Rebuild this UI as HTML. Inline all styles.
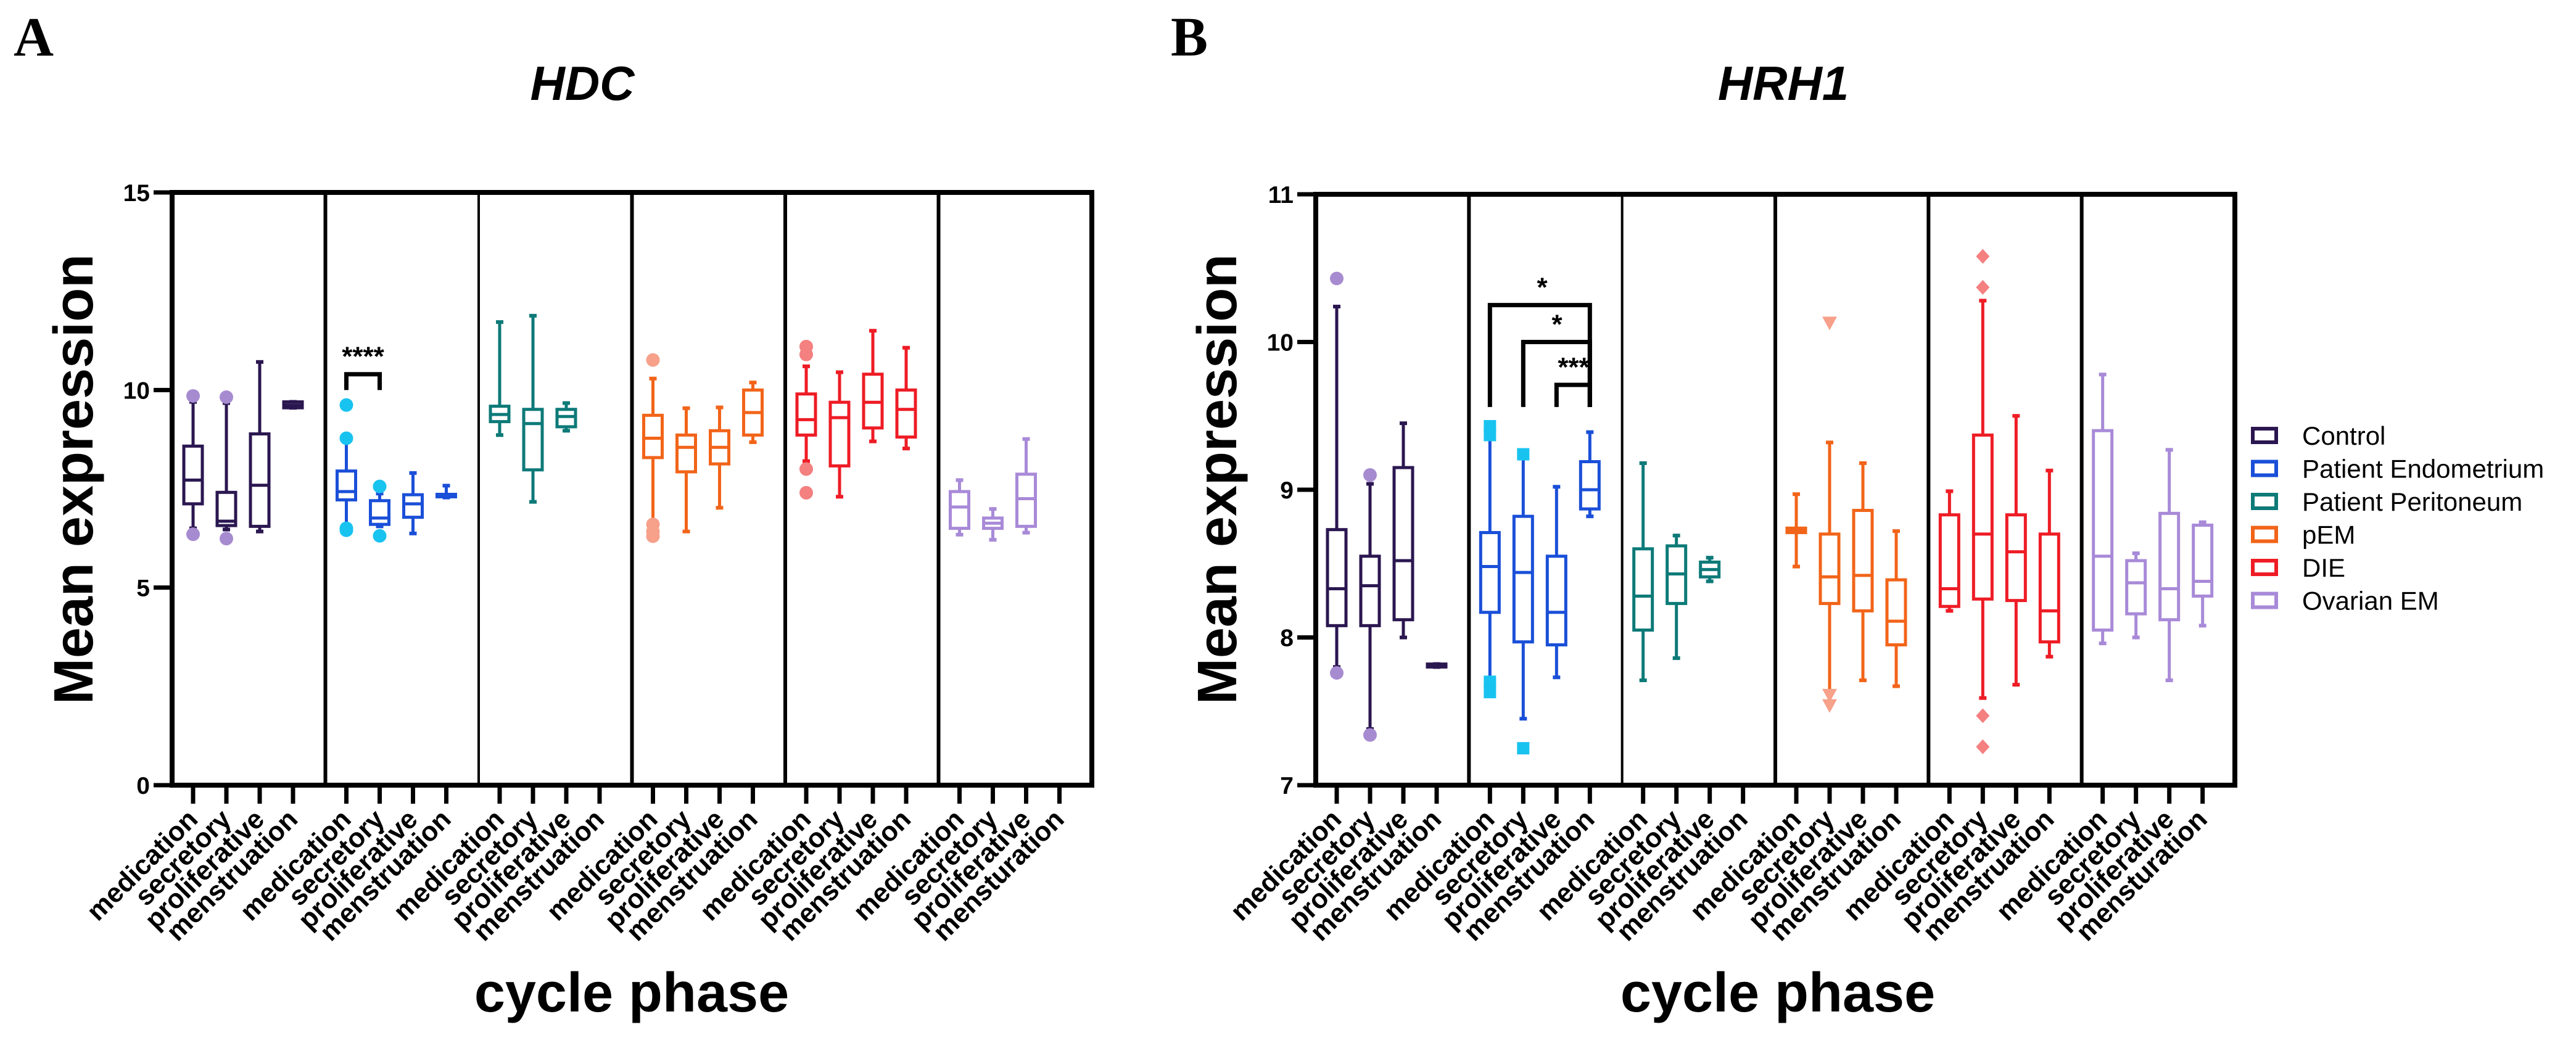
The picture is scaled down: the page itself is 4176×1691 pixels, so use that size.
<!DOCTYPE html>
<html><head><meta charset="utf-8"><style>
html,body{margin:0;padding:0;background:#fff;}
svg{display:block;font-family:"Liberation Sans",Arial,sans-serif;}
</style></head><body>
<svg id="fig" width="4176" height="1691" viewBox="0 0 4176 1691" xmlns="http://www.w3.org/2000/svg">
<rect width="4176" height="1691" fill="#fff"/>
<text x="22" y="90" font-family="Liberation Serif" font-weight="bold" font-size="90">A</text>
<text x="1898" y="90" font-family="Liberation Serif" font-weight="bold" font-size="90">B</text>
<text x="944" y="162" text-anchor="middle" font-weight="bold" font-style="italic" font-size="78">HDC</text>
<text x="2891" y="162" text-anchor="middle" font-weight="bold" font-style="italic" font-size="78">HRH1</text>
<text transform="translate(150,777) rotate(-90)" text-anchor="middle" font-weight="bold" font-size="90">Mean expression</text>
<text transform="translate(2004,777) rotate(-90)" text-anchor="middle" font-weight="bold" font-size="90">Mean expression</text>
<text x="1024" y="1640" text-anchor="middle" font-weight="bold" font-size="90">cycle phase</text>
<text x="2882" y="1640" text-anchor="middle" font-weight="bold" font-size="90">cycle phase</text>
<g id="pa"></g>
<g id="pb"></g>
<g id="legend"></g>
</svg>
<script>
const groupNames = ['Control','Patient Endometrium','Patient Peritoneum','pEM','DIE','Ovarian EM'];
const phasesA = ['medication','secretory','proliferative','menstruation'];
const phasesLast = ['medication','secretory','proliferative','mensturation'];
const groupColors = ['#2b1750','#1a4fd8','#0d7a78','#f26419','#ee1c25','#a88ad8'];
const outlierColors = ['#a78bd0','#19c3f0','#0d7a78','#f7a08a','#f48080','#a88ad8'];
const markerB = ['circle','square','circle','triangle','diamond','circle'];

// Panel A (HDC): 24 boxes, group-major, null = no data
const hdcMin    = [6.5,6.47,6.42,9.55, 6.6,6.55,6.37,7.28, 8.86,7.17,8.97,null, 6.65,6.42,7.02,8.68, 8.2,7.3,8.7,8.52, 6.34,6.21,6.39,null];
const hdcQ1     = [7.12,6.57,6.55,9.55, 7.22,6.6,6.78,7.3, 9.2,7.98,9.07,null, 8.29,7.93,8.13,8.86, 8.86,8.08,9.04,8.81, 6.5,6.5,6.55,null];
const hdcMedian = [7.72,6.68,7.59,9.62, 7.43,6.76,7.12,7.32, 9.38,9.15,9.33,null, 8.78,8.55,8.55,9.43, 9.25,9.3,9.69,9.51, 7.04,6.63,7.25,null];
const hdcQ3     = [8.58,7.41,8.89,9.7, 7.95,7.2,7.35,7.36, 9.59,9.51,9.51,null, 9.36,8.86,8.97,10.0, 9.9,9.69,10.4,10.0, 7.43,6.76,7.87,null];
const hdcMax    = [9.7,9.67,10.71,9.7, 8.68,7.38,7.9,7.58, 11.72,11.88,9.67,null, 10.29,9.54,9.56,10.19, 10.6,10.45,11.5,11.07, 7.72,6.99,8.76,null];
const hdcOutIdx = [0,0,1,1,4,4,4,4,5,5,12,12,12,12,16,16,16,16];
const hdcOutVal = [9.85,6.35,9.82,6.24,9.62,8.78,6.5,6.45,7.56,6.31,10.76,6.6,6.42,6.3,11.1,10.9,8.0,7.4];
const hdcYTicks = [0,5,10,15];

// Panel B (HRH1)
const hrhMin    = [7.8,7.38,8.0,7.8, 7.68,7.45,7.73,8.82, 7.71,7.86,8.38,null, 8.48,7.63,7.71,7.67, 8.18,7.59,7.68,7.87, 7.96,8.0,7.71,8.08];
const hrhQ1     = [8.08,8.08,8.12,7.8, 8.17,7.97,7.95,8.87, 8.05,8.23,8.41,null, 8.71,8.23,8.18,7.95, 8.21,8.26,8.25,7.97, 8.05,8.16,8.12,8.28];
const hrhMedian = [8.33,8.35,8.52,7.81, 8.48,8.44,8.17,9.0, 8.28,8.43,8.46,null, 8.72,8.41,8.42,8.11, 8.33,8.7,8.58,8.18, 8.55,8.37,8.33,8.38];
const hrhQ3     = [8.73,8.55,9.15,7.82, 8.71,8.82,8.55,9.19, 8.6,8.62,8.51,null, 8.74,8.7,8.86,8.39, 8.83,9.37,8.83,8.7, 9.4,8.52,8.84,8.76];
const hrhMax    = [10.24,9.04,9.45,7.82, 9.39,9.23,9.02,9.39, 9.18,8.69,8.54,null, 8.97,9.32,9.18,8.72, 8.99,10.28,9.5,9.13, 9.78,8.57,9.27,8.78];
const hrhOutIdx = [0,0,1,1,4,4,4,4,5,5,13,13,13,17,17,17,17];
const hrhOutVal = [10.43,7.76,9.1,7.34,9.43,9.37,7.7,7.63,9.24,7.25,10.13,7.61,7.54,10.58,10.37,7.47,7.26];
const hrhYTicks = [7,8,9,10,11];

const NS='http://www.w3.org/2000/svg';
function mk(parent,tag,attrs){const e=document.createElementNS(NS,tag);for(const k in attrs)e.setAttribute(k,attrs[k]);parent.appendChild(e);return e;}

function panel(gid,cfg){
  const g=document.getElementById(gid);
  const X0=cfg.x0,X1=cfg.x1,YB=1273,YT=cfg.yt;
  const gw=(X1-X0)/6;
  const y=v=>YB-(v-cfg.vmin)/(cfg.vmax-cfg.vmin)*(YB-YT);
  const xt=(gi,pi)=>X0+gi*gw+34+54*pi;
  const fr=mk(g,'rect',{x:X0,y:YT,width:X1-X0,height:YB-YT,fill:'none',stroke:'#000','stroke-width':8});
  
  
  for(let i=1;i<6;i++){
    const d=mk(g,'line',{x1:X0+i*gw,x2:X0+i*gw,y1:YT,y2:YB,stroke:'#000','stroke-width':i==2?4:6});
    
    
  }
  cfg.yticks.forEach(v=>{
    const t=mk(g,'line',{x1:X0-30,x2:X0,y1:y(v),y2:y(v),stroke:'#000','stroke-width':7});
    
    
    const l=mk(g,'text',{x:X0-36,y:y(v)+14,'text-anchor':'end','font-size':39,'font-weight':'bold'});
    l.textContent=v;
    
    
  });
  for(let gi=0;gi<6;gi++){
    for(let pi=0;pi<4;pi++){
      const xx=xt(gi,pi);
      const t=mk(g,'line',{x1:xx,x2:xx,y1:YB,y2:YB+30,stroke:'#000','stroke-width':7});
      
      
      const lbl=(gi==5?phasesLast:phasesA)[pi];
      const tx=mk(g,'text',{transform:`translate(${xx+10},${YB+58}) rotate(-45)`,'text-anchor':'end','font-size':44,'font-weight':'bold'});
      tx.textContent=lbl;
      
      
      const k=gi*4+pi;
      if(cfg.med[k]==null)continue;
      const col=groupColors[gi];
      const bg=mk(g,'g',{});
      
      
      const bw=30,cw=12,sw=5;
      mk(bg,'line',{x1:xx,x2:xx,y1:y(cfg.max[k]),y2:y(cfg.q3[k]),stroke:col,'stroke-width':sw});
      mk(bg,'line',{x1:xx,x2:xx,y1:y(cfg.q1[k]),y2:y(cfg.min[k]),stroke:col,'stroke-width':sw});
      mk(bg,'line',{x1:xx-cw/2,x2:xx+cw/2,y1:y(cfg.max[k]),y2:y(cfg.max[k]),stroke:col,'stroke-width':sw+1});
      mk(bg,'line',{x1:xx-cw/2,x2:xx+cw/2,y1:y(cfg.min[k]),y2:y(cfg.min[k]),stroke:col,'stroke-width':sw+1});
      const h=Math.max(y(cfg.q1[k])-y(cfg.q3[k]),4);
      mk(bg,'rect',{x:xx-bw/2,y:y(cfg.q3[k]),width:bw,height:h,fill:'#fff',stroke:col,'stroke-width':sw});
      mk(bg,'line',{x1:xx-bw/2,x2:xx+bw/2,y1:y(cfg.med[k]),y2:y(cfg.med[k]),stroke:col,'stroke-width':sw});
    }
  }
  cfg.outIdx.forEach((k,i)=>{
    const gi=Math.floor(k/4),pi=k%4,xx=xt(gi,pi),yy=y(cfg.outVal[i]);
    const col=outlierColors[gi],m=cfg.markers?cfg.markers[gi]:'circle';
    let e;
    if(m=='square')e=mk(g,'rect',{x:xx-10,y:yy-10,width:20,height:20,fill:col});
    else if(m=='triangle')e=mk(g,'polygon',{points:`${xx-12},${yy-10} ${xx+12},${yy-10} ${xx},${yy+12}`,fill:col});
    else if(m=='diamond')e=mk(g,'polygon',{points:`${xx},${yy-12} ${xx+11},${yy} ${xx},${yy+12} ${xx-11},${yy}`,fill:col});
    else e=mk(g,'circle',{cx:xx,cy:yy,r:11,fill:col});
    
    
  });
  (cfg.brackets||[]).forEach(b=>{
    const xa=xt(b.g,b.a),xb=xt(b.g,b.b);
    const p=mk(g,'path',{d:`M${xa},${y(b.legs)} V${y(b.top)} H${xb} V${y(b.legs)}`,fill:'none',stroke:'#000','stroke-width':7});
    
    
    const s=mk(g,'text',{x:b.sx!=null?b.sx:(xa+xb)/2,y:y(b.top)-14,'text-anchor':'middle','font-size':44,'font-weight':'bold'});
    s.textContent=b.label;
    
    
  });
}

panel('pa',{x0:279,x1:1770,yt:312,vmin:0,vmax:15,yticks:hdcYTicks,min:hdcMin,q1:hdcQ1,med:hdcMedian,q3:hdcQ3,max:hdcMax,outIdx:hdcOutIdx,outVal:hdcOutVal,
  brackets:[{g:1,a:0,b:1,top:10.4,legs:10.0,label:'****'}]});
panel('pb',{x0:2133,x1:3623,yt:315,vmin:7,vmax:11,yticks:hrhYTicks,min:hrhMin,q1:hrhQ1,med:hrhMedian,q3:hrhQ3,max:hrhMax,outIdx:hrhOutIdx,outVal:hrhOutVal,markers:markerB,
  brackets:[{g:1,a:0,b:3,top:10.25,legs:9.56,label:'*',sx:2500},{g:1,a:1,b:3,top:10.0,legs:9.56,label:'*',sx:2524},{g:1,a:2,b:3,top:9.71,legs:9.56,label:'***',sx:2551}]});

const lg=document.getElementById('legend');
groupNames.forEach((n,i)=>{
  const yy=707+i*53.5;
  const r=mk(lg,'rect',{x:3652,y:yy-12,width:38,height:22,fill:'#fff',stroke:groupColors[i],'stroke-width':6});
  
  
  const t=mk(lg,'text',{x:3732,y:yy+14,'font-size':42});
  t.textContent=n;
  
  
});
</script>
</body></html>
